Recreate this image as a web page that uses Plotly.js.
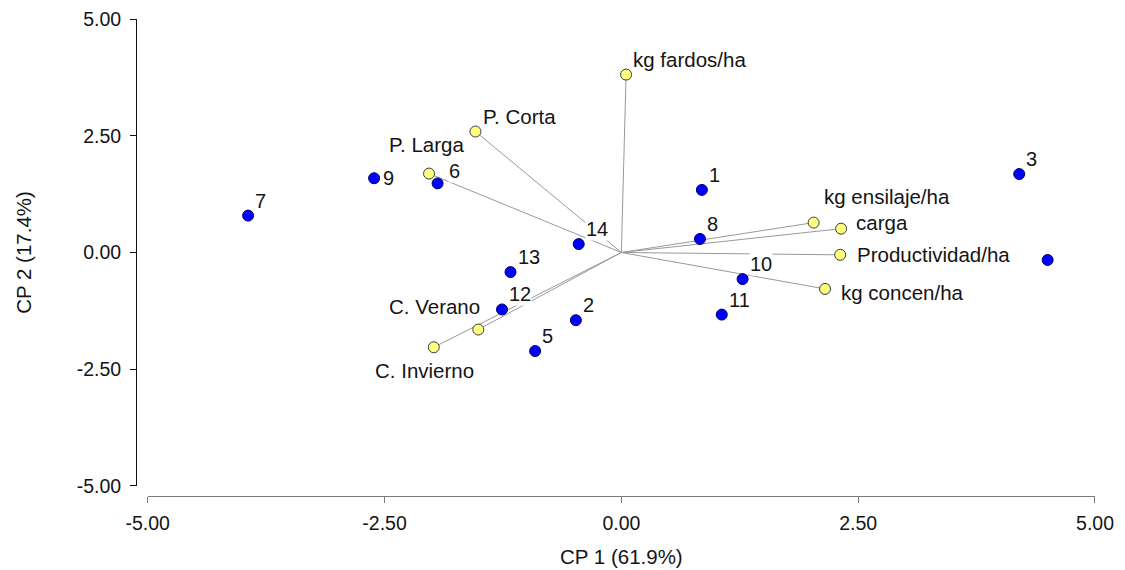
<!DOCTYPE html>
<html>
<head>
<meta charset="utf-8">
<script src="https://cdn.plot.ly/plotly-3.0.1.min.js"></script>
<style>html,body{margin:0;padding:0;background:#fff;}#chart{width:1125px;height:570px;}</style>
</head>
<body>
<div id="chart"></div>
<script>
// ---- Data: observations (blue) ----
var obsLabels = ["1","2","3","4","5","6","7","8","9","10","11","12","13","14"];
var obsX = [0.85, -0.48, 4.20, 4.50, -0.91, -1.94, -3.94, 0.83, -2.61, 1.28, 1.06, -1.26, -1.17, -0.45];
var obsY = [1.34, -1.45, 1.68, -0.16, -2.11, 1.48, 0.79, 0.29, 1.59, -0.57, -1.33, -1.22, -0.42, 0.18];

// ---- Data: variables (yellow) ----
var varLabels = ["kg fardos/ha","P. Corta","P. Larga","kg ensilaje/ha","carga","Productividad/ha","kg concen/ha","C. Verano","C. Invierno"];
var varX = [0.05, -1.54, -2.03, 2.03, 2.32, 2.31, 2.15, -1.51, -1.98];
var varY = [3.81, 2.59, 1.69, 0.64, 0.51, -0.05, -0.78, -1.65, -2.03];

// ---- Axis ticks ----
var tickVals = [-5, -2.5, 0, 2.5, 5];
var tickText = ["-5.00", "-2.50", "0.00", "2.50", "5.00"];

// ---- Label placement styles (pixels) ----
var obsLabelStyle = {
  "default": {xanchor: "left", xshift: 6, yshift: 15},
  "9": {xanchor: "left", xshift: 8, yshift: 0},
  "6": {xanchor: "left", xshift: 10, yshift: 12},
  "4": null
};
var varLabelStyle = [
  {xanchor: "left", xshift: 6, yshift: 15},
  {xanchor: "left", xshift: 7, yshift: 15},
  {xanchor: "center", xshift: -3, yshift: 29},
  {xanchor: "left", xshift: 9, yshift: 26},
  {xanchor: "left", xshift: 14, yshift: 6},
  {xanchor: "left", xshift: 16, yshift: 0},
  {xanchor: "left", xshift: 15, yshift: -4},
  {xanchor: "right", xshift: 3, yshift: 23},
  {xanchor: "center", xshift: -9, yshift: -23}
];

var FONT = "Arial, 'Liberation Sans', sans-serif";
var TXT = "#141414";

// vectors from origin
var vecX = [], vecY = [];
for (var i = 0; i < varX.length; i++) {
  vecX.push(0, varX[i], null);
  vecY.push(0, varY[i], null);
}

var traces = [
  {x: vecX, y: vecY, mode: "lines", line: {color: "#999999", width: 1}, hoverinfo: "skip", showlegend: false},
  {x: varX, y: varY, mode: "markers", marker: {size: 11, color: "#FFFF80", line: {color: "#3a3a3a", width: 1}}, showlegend: false},
  {x: obsX, y: obsY, mode: "markers", marker: {size: 11, color: "#0000FF", line: {color: "#000060", width: 1}}, showlegend: false}
];

var annotations = [];
for (var j = 0; j < obsLabels.length; j++) {
  var st = obsLabelStyle.hasOwnProperty(obsLabels[j]) ? obsLabelStyle[obsLabels[j]] : obsLabelStyle["default"];
  if (!st) continue;
  annotations.push({x: obsX[j], y: obsY[j], xref: "x", yref: "y", text: obsLabels[j], showarrow: false,
    xanchor: st.xanchor, yanchor: "middle", xshift: st.xshift, yshift: st.yshift,
    bgcolor: "#ffffff", borderpad: 0, font: {family: FONT, size: 20, color: TXT}});
}
for (var k = 0; k < varLabels.length; k++) {
  var vs = varLabelStyle[k];
  annotations.push({x: varX[k], y: varY[k], xref: "x", yref: "y", text: varLabels[k], showarrow: false,
    xanchor: vs.xanchor, yanchor: "middle", xshift: vs.xshift, yshift: vs.yshift,
    bgcolor: "#ffffff", borderpad: 0, font: {family: FONT, size: 20.5, color: TXT}});
}

var layout = {
  width: 1125, height: 570,
  margin: {l: 136, r: 30, t: 19, b: 74, pad: 0},
  paper_bgcolor: "#ffffff", plot_bgcolor: "#ffffff",
  showlegend: false, hovermode: false,
  font: {family: FONT, color: TXT},
  xaxis: {
    range: [-5, 5], domain: [0.0122, 1], anchor: "free", position: 0,
    showline: true, linecolor: "#7a7a7a", linewidth: 1,
    ticks: "outside", ticklen: 6, tickcolor: "#7a7a7a", tickwidth: 1,
    tickvals: tickVals, ticktext: tickText, ticklabelstandoff: 4,
    tickfont: {family: FONT, size: 19.5, color: TXT},
    showgrid: false, zeroline: false, automargin: false,
    title: {text: "CP 1 (61.9%)", font: {family: FONT, size: 20.5, color: TXT}, standoff: 16}
  },
  yaxis: {
    range: [-5, 5], domain: [0.021, 1], anchor: "free", position: 0,
    showline: true, linecolor: "#111111", linewidth: 1,
    ticks: "outside", ticklen: 6, tickcolor: "#111111", tickwidth: 1,
    tickvals: tickVals, ticktext: tickText, ticklabelstandoff: 5,
    tickfont: {family: FONT, size: 19.5, color: TXT},
    showgrid: false, zeroline: false, automargin: false,
    title: {text: "CP 2 (17.4%)", font: {family: FONT, size: 20.5, color: TXT}, standoff: 38}
  },
  annotations: annotations
};

Plotly.newPlot("chart", traces, layout, {displayModeBar: false, staticPlot: true});
</script>
</body>
</html>
